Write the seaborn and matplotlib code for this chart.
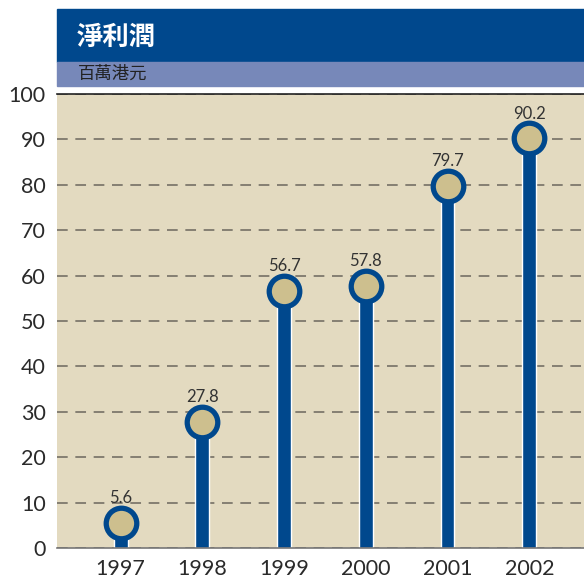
import matplotlib
matplotlib.use("Agg")
import matplotlib.pyplot as plt
from matplotlib.patches import Rectangle
import seaborn as sns
import pandas as pd

# data
years = ["1997", "1998", "1999", "2000", "2001", "2002"]
profit = [5.6, 27.8, 56.7, 57.8, 79.7, 90.2]
title = "淨利潤"
unit = "百萬港元"

BLUE = "#00488d"
BAR2 = "#7788b9"
BG = "#e3dac0"
DOT = "#cdbf8e"

df = pd.DataFrame({"year": years, "profit": profit})

sns.set_theme(style="white")
plt.rcParams["font.family"] = ["Lato", "Noto Sans CJK TC", "DejaVu Sans"]

fig = plt.figure(figsize=(5.84, 5.80), dpi=100)
ax = fig.add_axes([57 / 584, 32 / 580, 527 / 584, 454 / 580])
ax.set_facecolor(BG)

# stems + heads
sns.barplot(df, x="year", y="profit", color=BLUE, saturation=1, width=0.17, ax=ax)
sns.pointplot(df, x="year", y="profit", linestyle="none", marker="o",
              color=BLUE, markerfacecolor=DOT, markersize=22,
              markeredgewidth=3.8, ax=ax)
ax.bar_label(ax.containers[0], labels=[f"{v:.1f}" for v in profit],
             padding=12, fontsize=12, color="#333333")

ax.set_ylim(0, 100)
ax.set_xlim(-0.78, 5.67)
ax.set_yticks(range(0, 101, 10))
ax.yaxis.grid(True, ls=(0, (7, 5)), color="#6b675e", lw=1.1)
ax.set_axisbelow(True)
ax.tick_params(axis="both", labelsize=15.5, colors="#2a2a2a", length=0, pad=8)
ax.set_xlabel("")
ax.set_ylabel("")
for s in ["left", "right"]:
    ax.spines[s].set_visible(False)
ax.spines["top"].set_color("#222222")
ax.spines["top"].set_linewidth(1.2)
ax.spines["bottom"].set_color("#777777")
ax.spines["bottom"].set_linewidth(1.2)

# header bands
fig.patches.append(Rectangle((57 / 584, 518 / 580), 527 / 584, 53 / 580,
                             transform=fig.transFigure, color=BLUE, zorder=0))
fig.patches.append(Rectangle((57 / 584, 494 / 580), 527 / 584, 24 / 580,
                             transform=fig.transFigure, color=BAR2, zorder=0))
fig.text(77 / 584, 1 - 37 / 580, title, color="white", fontsize=19,
         fontweight="bold", va="center", family=["Noto Sans CJK TC"])
fig.text(78 / 584, 1 - 74 / 580, unit, color="#222222", fontsize=12.5,
         va="center", family=["Noto Sans CJK TC"])

fig.savefig("out.png", dpi=100)
